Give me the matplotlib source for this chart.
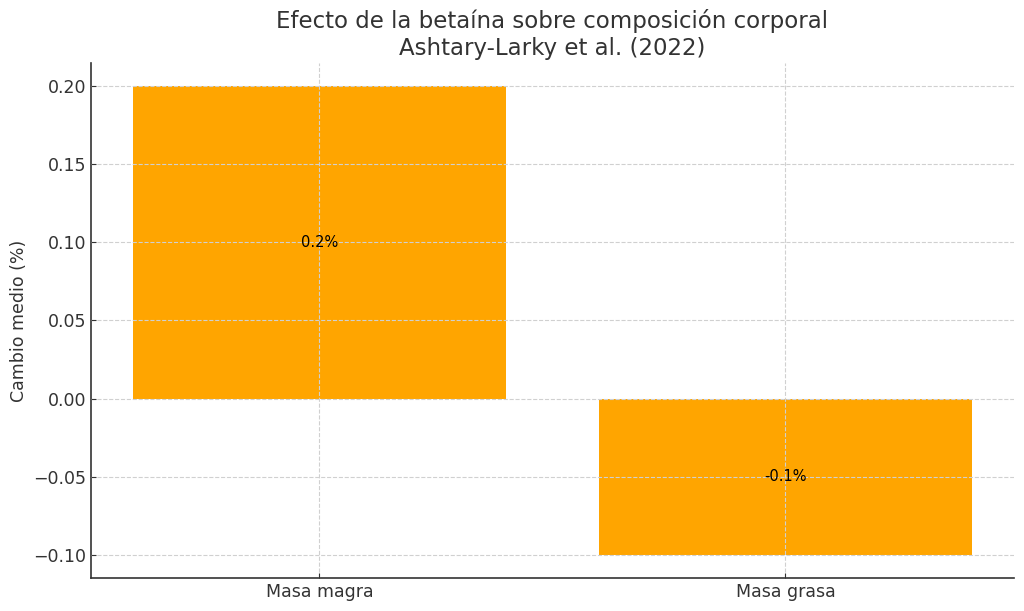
import matplotlib
matplotlib.use("Agg")
import matplotlib.pyplot as plt

categorias = ["Masa magra", "Masa grasa"]
cambios = [0.2, -0.1]
etiquetas = ["0.2%", "-0.1%"]

plt.rcParams['font.family'] = 'DejaVu Sans'

fig, ax = plt.subplots(figsize=(10.24, 6.11), dpi=100)
bars = ax.bar(categorias, cambios, color='#FFA500', width=0.8)

for b, txt in zip(bars, etiquetas):
    ax.text(b.get_x() + b.get_width() / 2, b.get_height() / 2, txt,
            ha='center', va='center', fontsize=10.5, color='black')

ax.set_title("Efecto de la betaína sobre composición corporal\nAshtary-Larky et al. (2022)",
             fontsize=16.5, color='#333333')
ax.set_ylabel("Cambio medio (%)", fontsize=12.5, color='#333333')
ax.tick_params(axis='both', labelsize=12.5, labelcolor='#333333', direction='in', color='#333333')
ax.grid(True, linestyle='--', color='#d0d0d0', linewidth=0.8)
ax.set_axisbelow(False)
for s in ['top', 'right']:
    ax.spines[s].set_visible(False)
for s in ['left', 'bottom']:
    ax.spines[s].set_color('#333333')
    ax.spines[s].set_linewidth(1.2)

fig.subplots_adjust(left=0.089, right=0.99, top=0.897, bottom=0.054)
fig.savefig("out.png")
